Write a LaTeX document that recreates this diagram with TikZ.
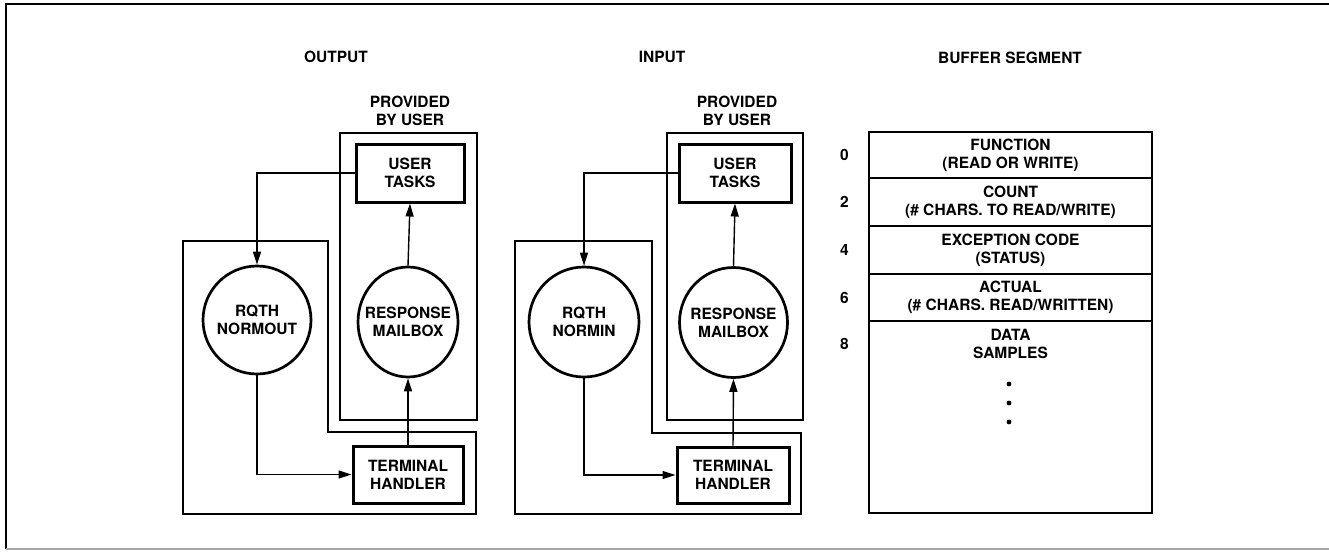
\documentclass[tikz,border=0pt]{standalone}
\usepackage{fontspec}
\setmainfont{TeX Gyre Heros}
\usetikzlibrary{positioning,shapes.geometric,arrows.meta}
\newcommand{\lab}{\fontsize{15.5}{18}\selectfont\bfseries}

\begin{document}
\begin{tikzpicture}[
		x=1pt, y=-1pt,
		frame/.style={line width=2.8pt},
		taskbox/.style={draw, line width=3pt, minimum width=108pt, minimum height=58pt, inner sep=0pt, align=center, font=\lab},
		proc/.style={draw, circle, line width=2.7pt, minimum size=108pt, inner sep=0pt, align=center, font=\lab},
		mailbox/.style={draw, ellipse, line width=2.7pt, minimum width=100pt, minimum height=110pt},
		lab/.style={align=center, font=\lab},
		link/.style={line width=1.4pt, -{Triangle[length=13pt,width=8pt]}},
		cell/.style={draw, line width=1.6pt, minimum width=283pt, inner sep=0pt, outer sep=0pt, align=center, font=\lab},
		num/.style={inner sep=0pt, font=\lab}
		]
		\useasboundingbox (0,0) rectangle (1329,552);
		
		% Draw page frame
		\draw[line width=2.2pt] (1329,4) -- (6,4) -- (6,549);
		\draw[line width=2.2pt, gray!70] (6,549) -- (1329,549);
		
		% OUTPUT side
		\node[lab] (outtitle) at (336,57) {OUTPUT};
		\node[lab] (outprov) at (410,111) {PROVIDED\\BY USER};
		\draw[frame] (340,133) rectangle (477,420);
		\draw[frame] (183,241) -- (328,241) -- (328,432) -- (476,432) -- (476,514) -- (183,514) -- cycle;
		\node[taskbox] (outtasks) at (410,173) {USER\\TASKS};
		\node[proc] (outnorm) at (257,320) {RQTH\\NORMOUT};
		\node[mailbox] (outmail) at (408,322) {};
		\node[lab] (outmailtxt) at (outmail) {RESPONSE\\MAILBOX};
		\node[taskbox, minimum width=110pt, minimum height=57pt] (outterm) at (408,474.5) {TERMINAL\\HANDLER};
		
		\draw[link] (outtasks.west) -| (outnorm.north);
		\draw[link] (outnorm.south) |- (outterm.west);
		\draw[link] (outterm.north) -- (outmail.south);
		\draw[link] (outmail.north) -- (outtasks.south);
		
		% INPUT side
		\node[lab] (intitle) at (662,57) {INPUT};
		\node[lab] (inprov) at (737,111) {PROVIDED\\BY USER};
		\draw[frame] (667,133) rectangle (803,420);
		\draw[frame] (515,241) -- (652,241) -- (652,433) -- (801,433) -- (801,514) -- (515,514) -- cycle;
		\node[taskbox, minimum width=112pt] (intasks) at (735,173) {USER\\TASKS};
		\node[proc, minimum size=110pt] (innorm) at (584,322) {RQTH\\NORMIN};
		\node[mailbox, minimum width=108pt] (inmail) at (733.5,322.5) {};
		\node[lab] (inmailtxt) at (inmail) {RESPONSE\\MAILBOX};
		\node[taskbox, minimum width=112pt, minimum height=56pt] (interm) at (733,475) {TERMINAL\\HANDLER};
		
		\draw[link] (intasks.west) -| (innorm.north);
		\draw[link] (innorm.south) |- (interm.west);
		\draw[link] (interm.north) -- (inmail.south);
		\draw[link] (inmail.north) -- (intasks.south);
		
		% BUFFER SEGMENT
		\node[lab] (buftitle) at (1010,58) {BUFFER SEGMENT};
		\node[cell, minimum height=46pt] (f0) at (1010.5,155) {FUNCTION\\(READ OR WRITE)};
		\node[cell, minimum height=48pt, below=0pt of f0] (f2) {COUNT\\(\# CHARS. TO READ/WRITE)};
		\node[cell, minimum height=48pt, below=0pt of f2] (f4) {EXCEPTION CODE\\(STATUS)};
		\node[cell, minimum height=47pt, below=0pt of f4] (f6) {ACTUAL\\(\# CHARS. READ/WRITTEN)};
		\node[cell, minimum height=192pt, below=0pt of f6] (f8) {};
		\draw[frame] (f0.north west) rectangle (f8.south east);
		\node[lab, below=5pt of f8.north] (data) {DATA\\SAMPLES};
		\fill (1009,384) circle (2.4pt);
		\fill (1009,403) circle (2.4pt);
		\fill (1009,422) circle (2.4pt);
		
		% Add offsets
		\node[num, left=20pt of f0] (n0) {0};
		\node[num, left=20pt of f2] (n2) {2};
		\node[num, left=20pt of f4] (n4) {4};
		\node[num, left=20pt of f6] (n6) {6};
		\node[num, left=20pt of f8.west |- data] (n8) {8};
		
	\end{tikzpicture}
\end{document}
